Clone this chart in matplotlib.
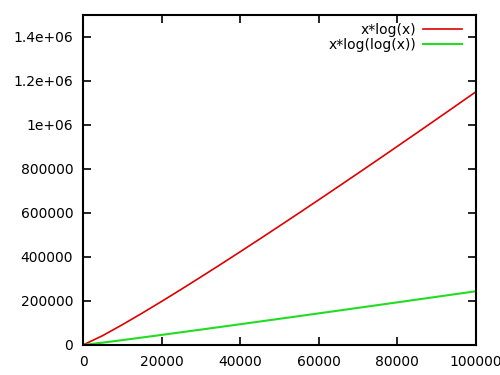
import matplotlib
matplotlib.use("Agg")
import matplotlib.pyplot as plt
from matplotlib.ticker import FixedLocator, FixedFormatter

x_vals = [0, 5000, 10000, 15000, 20000, 25000, 30000, 35000, 40000, 45000, 50000,
          55000, 60000, 65000, 70000, 75000, 80000, 85000, 90000, 95000, 100000]
xlogx = [0, 42586, 92103, 144237, 198070, 253165, 309278, 366209, 423865, 482148, 540989,
         600331, 660126, 720340, 780940, 841898, 903184, 964784, 1026684, 1088852, 1151293]
xloglogx = [0, 10710, 22203, 33951, 45858, 57880, 69990, 82176, 94420, 106722, 119070,
            131461, 143886, 156351, 168840, 181365, 193912, 206490, 219087, 231705, 244350]
series_labels = ["x*log(x)", "x*log(log(x))"]
xticks = [0, 20000, 40000, 60000, 80000, 100000]
xtick_labels = ["0", "20000", "40000", "60000", "80000", "100000"]
yticks = [0, 200000, 400000, 600000, 800000, 1000000, 1200000, 1400000]
ytick_labels = ["0", "200000", "400000", "600000", "800000", "1e+06", "1.2e+06", "1.4e+06"]

plt.rcParams['font.family'] = ['DejaVu Sans']
plt.rcParams['font.size'] = 10

fig = plt.figure(figsize=(5, 3.75), dpi=100)
ax = fig.add_axes([0.166, 0.08, 0.786, 0.88])

ax.plot(x_vals, xlogx, color='#e00000', lw=1.2, label=series_labels[0])
ax.plot(x_vals, xloglogx, color='#22dd22', lw=1.5, label=series_labels[1])

ax.set_xlim(0, 100000)
ax.set_ylim(0, 1500000)
ax.xaxis.set_major_locator(FixedLocator(xticks))
ax.xaxis.set_major_formatter(FixedFormatter(xtick_labels))
ax.yaxis.set_major_locator(FixedLocator(yticks))
ax.yaxis.set_major_formatter(FixedFormatter(ytick_labels))
ax.tick_params(direction='in', length=6, width=1.2, top=True, right=True, pad=7, labelsize=10)
for s in ax.spines.values():
    s.set_linewidth(1.5)

leg = ax.legend(loc='upper right', bbox_to_anchor=(0.9885, 1.006), frameon=False,
                markerfirst=False, handlelength=2.8,
                handletextpad=0.5, labelspacing=0.1, borderaxespad=0.3, fontsize=10)
for t in leg.get_texts():
    t.set_ha('right')

fig.savefig("out.png", dpi=100)
